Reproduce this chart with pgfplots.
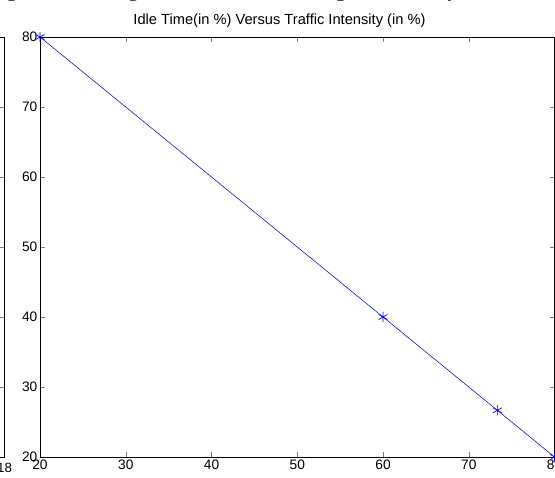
\documentclass[border=0pt]{standalone}
\usepackage{fontspec}
\setmainfont{Liberation Sans}
\newfontfamily\serifbf{Liberation Serif}
\usepackage{pgfplots}
\pgfplotsset{compat=1.18}
\begin{document}
\begin{tikzpicture}
\useasboundingbox (0,0) rectangle (416.25pt,357.75pt);
\clip (0,0) rectangle (416.25pt,357.75pt);
% cut caption at top
\node[anchor=base, inner sep=0pt, font=\serifbf\bfseries\fontsize{14}{16}\selectfont, text=black!75] at (208pt,359.6pt) {Figure 5: Showing Idle Time Versus Waiting Cost vs subsystem between};
% fragment of a neighbouring axis on the left
\begin{axis}[
  at={(3.4pt,15pt)}, anchor=south east,
  scale only axis, width=385pt, height=315pt,
  xmin=0, xmax=18, ymin=20, ymax=80,
  xtick={0,2,...,18}, ytick={20,30,...,80},
  tick align=inside, major tick length=3.75pt,
  /pgf/number format/assume math mode=true,
  tick label style={font=\fontsize{10}{12}\selectfont},
  xticklabel style={yshift=-1pt},
  axis line style={line width=0.6pt},
]
\end{axis}
\begin{axis}[
  at={(30pt,15pt)}, anchor=south west,
  scale only axis, width=385.9pt, height=315pt,
  xmin=20, xmax=80, ymin=20, ymax=80,
  xtick={20,30,...,80}, ytick={20,30,...,80},
  tick align=inside, major tick length=3.75pt,
  /pgf/number format/assume math mode=true,
  tick label style={font=\fontsize{10.3}{12}\selectfont},
  xticklabel style={yshift=1pt},
  yticklabel style={xshift=1.5pt},
  axis line style={line width=0.6pt},
  clip=false,
]
\addplot[color=blue, line width=0.4pt, mark=asterisk, mark size=3.8pt, mark options={line width=0.5pt}]
  coordinates {(20,80) (60,40) (73.33,26.67) (80,20)};
\end{axis}
\node[anchor=base, inner sep=0pt, font=\fontsize{11}{13}\selectfont] at (209.6pt,339pt) {Idle Time(in \%) Versus Traffic Intensity (in \%)};
\end{tikzpicture}
\end{document}
